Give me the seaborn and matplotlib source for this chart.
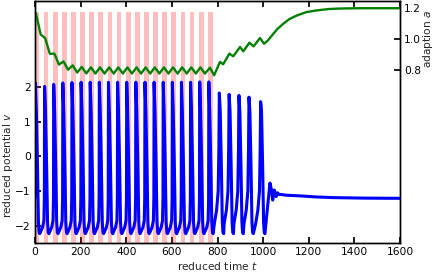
import numpy as np
import pandas as pd
import matplotlib
matplotlib.use("Agg")
import matplotlib.pyplot as plt
import seaborn as sns

# ---------------- data ----------------
# stimulus pulses (start times, duration)
pulse_start = [-2, 38, 78, 118, 158, 198, 238, 278, 318, 358,
               398, 438, 478, 518, 558, 598, 638, 678, 718, 758]
pulse_width = 21
pulse_top = 4.18

# spikes of v during stimulation
stim_peak_t = [2, 42, 82, 122, 162, 202, 242, 282, 322, 362,
               402, 442, 482, 522, 562, 602, 642, 682, 722, 762]
stim_peak_v = [2.12, 2.02, 2.08, 2.12, 2.13, 2.14, 2.14, 2.14, 2.14, 2.14,
               2.14, 2.14, 2.14, 2.14, 2.14, 2.14, 2.14, 2.14, 2.15, 2.15]
# free spikes after stimulation ends
free_peak_t = [808, 851, 894, 938, 989]
free_peak_v = [1.83, 1.79, 1.76, 1.71, 1.58]

# shape of one spike (offsets from the peak)
fall_dt = [4, 9, 13, 16, 19]
fall_v = [1.3, -0.3, -1.9, -2.2, -2.23]
stim_rise_dt = [-17, -9, -3, -1]
stim_rise_v = [-2.17, -2.05, -1.85, -1.2]
free_rise_dt = [-22, -12, -5, -2]
free_rise_v = [-1.95, -1.55, -1.0, 0.2]

# start and damped tail of v
v_start_t, v_start_v = 0, -1.2
tail_t = [1015, 1025, 1030, 1036, 1042, 1049, 1057, 1063, 1070, 1080,
          1100, 1162, 1230, 1308, 1450, 1600]
tail_v = [-1.75, -1.1, -0.77, -0.95, -1.26, -0.97, -1.16, -1.05, -1.1, -1.1,
          -1.12, -1.14, -1.17, -1.19, -1.205, -1.21]

# adaptation a
a_t = [0, 5, 25, 45, 65, 85, 105, 125, 145, 165, 185, 205, 225,
       245, 265, 285, 305, 325, 345, 365, 385, 405, 425, 445, 465,
       485, 505, 525, 545, 565, 585, 605, 625, 645, 665, 685, 705,
       725, 745, 767, 785, 811, 825, 852, 869, 899, 913, 940, 958,
       986, 1004, 1020, 1045, 1062, 1089, 1115, 1148, 1190, 1236,
       1290, 1337, 1420, 1600]
a_v = [1.175, 1.16, 1.03, 1.005, 0.905, 0.906, 0.835, 0.856, 0.802, 0.83,
       0.784, 0.82, 0.778,
       0.817, 0.777, 0.817, 0.777, 0.817, 0.777, 0.817, 0.777, 0.817, 0.777,
       0.817, 0.777, 0.817, 0.777, 0.817, 0.777, 0.817, 0.777, 0.817, 0.777,
       0.817, 0.777, 0.817, 0.777, 0.817, 0.777, 0.815, 0.766, 0.852, 0.837,
       0.906, 0.889, 0.949, 0.921, 0.977, 0.953, 1.007, 0.97, 0.99, 1.035,
       1.065, 1.10, 1.13, 1.153, 1.175, 1.186, 1.195, 1.198, 1.2, 1.2]

# ---------------- assemble v path ----------------
vt, vv = [v_start_t], [v_start_v]
peaks = [(t, v, "stim") for t, v in zip(stim_peak_t, stim_peak_v)] + \
        [(t, v, "free") for t, v in zip(free_peak_t, free_peak_v)]
for i, (tp, pv, kind) in enumerate(peaks):
    if i > 0:
        rdt, rv = (stim_rise_dt, stim_rise_v) if kind == "stim" else (free_rise_dt, free_rise_v)
        for d, v in zip(rdt, rv):
            vt.append(tp + d); vv.append(v)
    vt.append(tp); vv.append(pv)
    for d, v in zip(fall_dt, fall_v):
        vt.append(tp + d); vv.append(v)
vt += tail_t
vv += tail_v
df_v = pd.DataFrame({"t": vt, "v": vv})
df_a = pd.DataFrame({"t": a_t, "a": a_v})

# ---------------- plotting ----------------
sns.set_theme(style="ticks", rc={
    "xtick.direction": "in", "ytick.direction": "in",
    "xtick.top": True, "xtick.major.size": 4, "ytick.major.size": 4,
    "axes.linewidth": 1.0, "axes.edgecolor": "black",
    "font.size": 7.7, "axes.labelsize": 7.7,
    "xtick.labelsize": 7.7, "ytick.labelsize": 7.7,
})
plt.rcParams["font.family"] = ["DejaVu Sans"]
plt.rcParams["mathtext.fontset"] = "dejavusans"

fig = plt.figure(figsize=(4.36, 2.73), dpi=100)
ax = fig.add_axes([35 / 436, 30 / 273, 365 / 436, 242.5 / 273])

ax.bar(pulse_start, pulse_top + 2.5, width=pulse_width, bottom=-2.5,
       align="edge", color="red", alpha=0.25, linewidth=0, zorder=1)
sns.lineplot(data=df_v, x="t", y="v", ax=ax, color="blue", lw=2.2,
             estimator=None, sort=False, zorder=3)

ax.set_xlim(0, 1600)
ax.set_ylim(-2.5, 4.5)
ax.set_xticks(range(0, 1601, 200))
ax.set_yticks([-2, -1, 0, 1, 2])
ax.set_xlabel("reduced time $t$", labelpad=2)
ax.set_ylabel("reduced potential $v$", labelpad=2)
ax.yaxis.set_label_coords(-0.056, 0.32)
ax.tick_params(right=False, colors="black", pad=3)

ax2 = ax.twinx()
sns.lineplot(data=df_a, x="t", y="a", ax=ax2, color="green", lw=1.7,
             estimator=None, sort=False)
ax2.set_ylim(-0.32, 1.25)
ax2.set_yticks([0.8, 1.0, 1.2])
ax2.set_yticklabels(["0.8", "1.0", "1.2"])
ax2.set_ylabel("adaption $a$", labelpad=2)
ax2.yaxis.set_label_coords(1.058, 0.84)
ax2.tick_params(direction="in", colors="black", pad=3)
ax2.set_xlim(0, 1600)
for a_ in (ax, ax2):
    for s in a_.spines.values():
        s.set_color("black")
        s.set_linewidth(1.0)

fig.savefig("out.png", dpi=100)
